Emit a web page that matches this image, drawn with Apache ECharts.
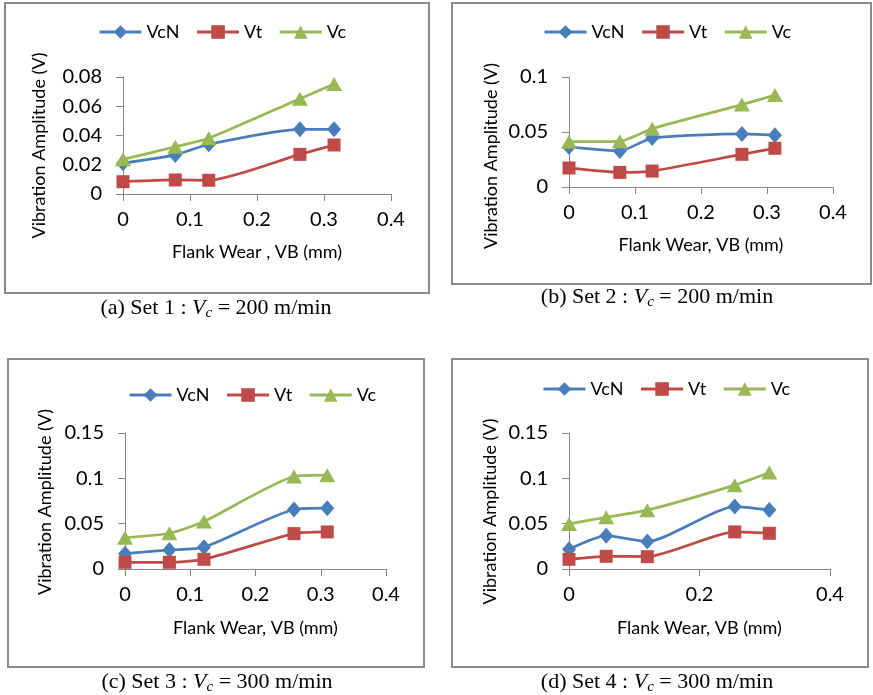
<!DOCTYPE html>
<html>
<head>
<meta charset="utf-8">
<script src="https://cdn.jsdelivr.net/npm/echarts@6/dist/echarts.min.js"></script>
<style>html,body{margin:0;padding:0;background:#fff}#c{width:873px;height:695px}</style>
</head>
<body>
<div id="c"></div>
<script>
// ---- data ----
const seriesNames = ['VcN', 'Vt', 'Vc'];
const xTicksA = [0, 0.1, 0.2, 0.3, 0.4];
const xTicksD = [0, 0.2, 0.4];

const xA = [0, 0.078, 0.128, 0.264, 0.315];
const vcnA = [0.021, 0.0267, 0.034, 0.0442, 0.0442];
const vtA = [0.0084, 0.0096, 0.0094, 0.0271, 0.0335];
const vcA = [0.0237, 0.0323, 0.0381, 0.0652, 0.0752];

const xB = [0, 0.077, 0.126, 0.262, 0.312];
const vcnB = [0.0364, 0.0327, 0.0445, 0.0482, 0.047];
const vtB = [0.0173, 0.0133, 0.0145, 0.0297, 0.0352];
const vcB = [0.0412, 0.0415, 0.053, 0.0749, 0.0836];

const xC = [0, 0.068, 0.121, 0.259, 0.31];
const vcnC = [0.0169, 0.021, 0.024, 0.0656, 0.0671];
const vtC = [0.0074, 0.0074, 0.0107, 0.039, 0.0409];
const vcC = [0.0346, 0.0394, 0.0523, 0.102, 0.1035];

const xD = [0, 0.057, 0.12, 0.254, 0.307];
const vcnD = [0.0218, 0.0368, 0.0302, 0.0689, 0.0652];
const vtD = [0.0107, 0.014, 0.0136, 0.0409, 0.0394];
const vcD = [0.0497, 0.0571, 0.0649, 0.0925, 0.1064];

const yMaxA = 0.08, yStepA = 0.02;
const yMaxB = 0.1, yStepB = 0.05;
const yMaxC = 0.15, yStepC = 0.05;
const yMaxD = 0.15, yStepD = 0.05;

const xNameA = 'Flank Wear , VB (mm)';
const xNameB = 'Flank Wear, VB (mm)';
const yName = 'Vibration Amplitude (V)';
const captions = [
  ['(a) Set 1 : ', '200 m/min'],
  ['(b) Set 2 : ', '200 m/min'],
  ['(c) Set 3 : ', '300 m/min'],
  ['(d) Set 4 : ', '300 m/min']
];

// ---- styling / layout ----
const FONT = 'Lato';
const colors = ['#4A7EBB', '#BE4B48', '#98B954'];
const symbols = ['diamond', 'rect', 'triangle'];
const symSizes = [[14, 16], 13, [16, 14]];

const panels = [
  {x: xA, ys: [vcnA, vtA, vcA], ymax: yMaxA, ystep: yStepA, xstep: 0.1, xname: xNameA,
   grid: {left: 123, top: 77, width: 268, height: 117}, legend: {left: 98, top: 23}, yshift: 20, ygap: 75, xgap: 49,
   box: [5, 3, 424, 290], cap: [216, 308]},
  {x: xB, ys: [vcnB, vtB, vcB], ymax: yMaxB, ystep: yStepB, xstep: 0.1, xname: xNameB,
   grid: {left: 569, top: 77, width: 264, height: 110}, legend: {left: 543, top: 23}, yshift: 48, ygap: 69, xgap: 49,
   box: [452, 3, 419, 281], cap: [657, 297]},
  {x: xC, ys: [vcnC, vtC, vcC], ymax: yMaxC, ystep: yStepC, xstep: 0.1, xname: xNameB,
   grid: {left: 125, top: 433, width: 261, height: 136}, legend: {left: 128, top: 386}, yshift: 2, ygap: 71, xgap: 50,
   box: [8, 359, 416, 308], cap: [217, 682]},
  {x: xD, ys: [vcnD, vtD, vcD], ymax: yMaxD, ystep: yStepD, xstep: 0.2, xname: xNameB,
   grid: {left: 569, top: 433, width: 261, height: 136}, legend: {left: 542, top: 380}, yshift: 21, ygap: 70, xgap: 50,
   box: [452, 359, 416, 308], cap: [657, 682]}
];

const grid = [], xAxis = [], yAxis = [], series = [], legend = [], graphic = [];
const fmt = v => String(+v.toFixed(3));

panels.forEach((p, i) => {
  grid.push(Object.assign({containLabel: false}, p.grid));
  const axisLine = {show: true, lineStyle: {color: '#868686', width: 1}};
  const axisTick = {show: true, inside: false, length: 7, lineStyle: {color: '#868686'}};
  xAxis.push({
    type: 'value', gridIndex: i, min: 0, max: 0.4, interval: p.xstep,
    name: p.xname, nameLocation: 'middle', nameGap: p.xgap,
    nameTextStyle: {fontFamily: FONT, fontSize: 18, color: '#000'},
    axisLine, axisTick, splitLine: {show: false},
    axisLabel: {fontFamily: FONT, fontSize: 20, color: '#000', margin: 16, formatter: fmt}
  });
  yAxis.push({
    type: 'value', gridIndex: i, min: 0, max: p.ymax, interval: p.ystep,
    name: yName, nameLocation: 'middle', nameGap: p.ygap,
    nameTextStyle: {fontFamily: FONT, fontSize: 18, color: '#000', padding: [0, p.yshift, 0, 0]},
    axisLine, axisTick, splitLine: {show: false},
    axisLabel: {fontFamily: FONT, fontSize: 20, color: '#000', margin: 21, formatter: fmt}
  });
  seriesNames.forEach((n, k) => {
    series.push({
      name: n, type: 'line', xAxisIndex: i, yAxisIndex: i,
      data: p.x.map((xv, j) => [xv, p.ys[k][j]]),
      smooth: 0.2, symbol: symbols[k], symbolSize: symSizes[k],
      lineStyle: {color: colors[k], width: 2.75},
      itemStyle: {color: colors[k]},
      emphasis: {disabled: true}, animation: false
    });
  });
  legend.push({
    left: p.legend.left, top: p.legend.top, orient: 'horizontal', padding: 0,
    data: seriesNames, itemWidth: 42, itemHeight: 17, itemGap: 16,
    lineStyle: {width: 3},
    textStyle: {fontFamily: FONT, fontSize: 18, color: '#000'},
    selectedMode: false
  });
  graphic.push({
    type: 'rect', shape: {x: p.box[0], y: p.box[1], width: p.box[2], height: p.box[3]},
    style: {fill: 'none', stroke: '#8c8c8c', lineWidth: 2}, silent: true, z: -1
  });
  graphic.push({
    type: 'text', x: p.cap[0], y: p.cap[1], silent: true,
    style: {
      text: '{n|' + captions[i][0] + '}{i|V}{s|c}{n| = ' + captions[i][1] + '}',
      align: 'center', verticalAlign: 'middle',
      rich: {
        n: {fontFamily: 'Liberation Serif', fontSize: 22, color: '#000', lineHeight: 26},
        i: {fontFamily: 'Liberation Serif', fontSize: 22, fontStyle: 'italic', color: '#000', lineHeight: 26},
        s: {fontFamily: 'Liberation Serif', fontSize: 15, fontStyle: 'italic', color: '#000', lineHeight: 15, padding: [11, 0, 0, 0]}
      }
    }
  });
});

const chart = echarts.init(document.getElementById('c'), null, {renderer: 'canvas'});
chart.setOption({
  animation: false,
  backgroundColor: '#fff',
  grid, xAxis, yAxis, series, legend, graphic
});
</script>
</body>
</html>
